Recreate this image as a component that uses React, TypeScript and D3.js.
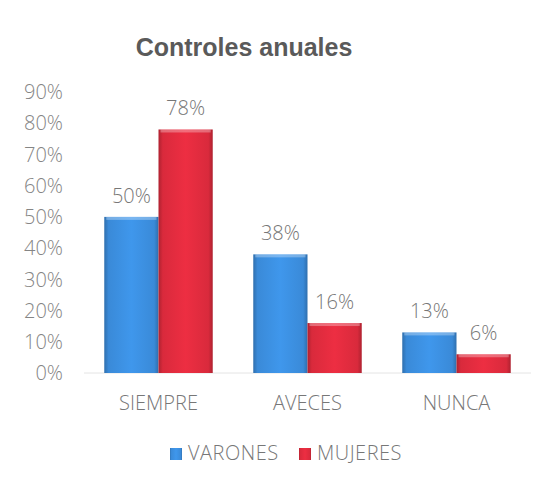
import React from "react";
import * as d3 from "d3";

const categories = ["SIEMPRE", "AVECES", "NUNCA"];
const seriesNames = ["VARONES", "MUJERES"];
const varones = [50, 38, 13];
const mujeres = [78, 16, 6];
const yTicks = [0, 10, 20, 30, 40, 50, 60, 70, 80, 90];

const W = 554, H = 482;
const plot = { left: 84, right: 531, top: 92, bottom: 373 };
const colors = ["#3a8ad8", "#d92a3c"];
const font = "'Open Sans', 'Liberation Sans', sans-serif";

export default function App() {
  const x = d3.scaleBand<string>().domain(categories).range([plot.left, plot.right]).paddingInner(0.272).paddingOuter(0.136);
  const x1 = d3.scaleBand<string>().domain(seriesNames).range([0, x.bandwidth()]);
  const y = d3.scaleLinear().domain([0, 90]).range([plot.bottom, plot.top]);
  const series = [varones, mujeres];
  const legendX = [170, 299];
  return (
    <svg width={W} height={H} style={{ position: "absolute", left: 0, top: 0, background: "#fff" }}>
      <defs>
        {colors.map((c, i) => {
          const d = d3.color(c)!.darker(0.6).formatHex();
          const b = d3.color(c)!.brighter(0.25).formatHex();
          return (
            <linearGradient id={`g${i}`} key={i} x1="0" x2="1" y1="0" y2="0">
              <stop offset="0" stopColor={d} />
              <stop offset="0.08" stopColor={c} />
              <stop offset="0.5" stopColor={b} />
              <stop offset="0.92" stopColor={c} />
              <stop offset="1" stopColor={d} />
            </linearGradient>
          );
        })}
      </defs>
      <text x={244} y={56} textAnchor="middle" fontFamily="'Liberation Sans', Arial, sans-serif" fontWeight="bold" fontSize={25} fill="#5a5a5a">Controles anuales</text>
      {yTicks.map(t => (
        <text key={t} x={63} y={y(t)} dy="0.36em" textAnchor="end" fontFamily={font} fontWeight={300} fontSize={20} fill="#858585">{t}%</text>
      ))}
      <line x1={plot.left} x2={plot.right} y1={plot.bottom} y2={plot.bottom} stroke="#e4e4e4" strokeWidth={1} />
      {categories.map((c, ci) => (
        <g key={c}>
          {series.map((s, si) => {
            const bx = x(c)! + x1(seriesNames[si])!;
            const bw = x1.bandwidth();
            const by = y(s[ci]);
            const bh = plot.bottom - by;
            return (
              <g key={si}>
                <rect x={bx} y={by} width={bw} height={bh} fill={`url(#g${si})`} />
                <rect x={bx + 2} y={by} width={bw - 4} height={3} fill="#ffffff" opacity={0.3} />
                <text x={bx + bw / 2} y={by - 14} textAnchor="middle" fontFamily={font} fontWeight={300} fontSize={20} fill="#777777">{s[ci]}%</text>
              </g>
            );
          })}
          <text x={x(c)! + x.bandwidth() / 2} y={410} textAnchor="middle" fontFamily={font} fontWeight={300} fontSize={20} fill="#777777">{c}</text>
        </g>
      ))}
      {seriesNames.map((n, i) => {
        const lx = legendX[i];
        return (
          <g key={n}>
            <rect x={lx} y={448} width={12} height={12} fill={`url(#g${i})`} />
            <text x={lx + 18} y={460} fontFamily={font} fontWeight={300} fontSize={20} letterSpacing={0.5} fill="#777777">{n}</text>
          </g>
        );
      })}
    </svg>
  );
}
